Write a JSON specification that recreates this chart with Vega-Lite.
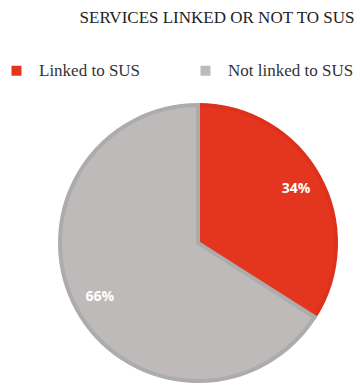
{
  "$schema": "https://vega.github.io/schema/vega-lite/v6.json",
  "width": 396,
  "height": 286,
  "autosize": "none",
  "padding": {"left": 0, "top": 100, "right": 0, "bottom": 0},
  "background": "white",
  "title": {
    "text": "SERVICES LINKED OR NOT TO SUS",
    "font": "Liberation Serif",
    "fontSize": 17,
    "fontWeight": "normal",
    "color": "#222222",
    "anchor": "middle",
    "dx": 19,
    "offset": 35
  },
  "data": {
    "values": [
      {"category": "Linked to SUS", "value": 34, "label": "34%"},
      {"category": "Not linked to SUS", "value": 66, "label": "66%"}
    ]
  },
  "encoding": {
    "theta": {"field": "value", "type": "quantitative", "stack": true},
    "order": {"field": "value", "type": "quantitative", "sort": "ascending"}
  },
  "layer": [
    {
      "mark": {"type": "arc", "outerRadius": 138, "strokeWidth": 4},
      "encoding": {
        "color": {
          "field": "category",
          "type": "nominal",
          "scale": {"domain": ["Linked to SUS", "Not linked to SUS"], "range": ["#e4361f", "#bdbab9"]},
          "legend": {
            "title": null,
            "orient": "none",
            "legendX": 8,
            "legendY": -38,
            "direction": "horizontal",
            "symbolType": "square",
            "symbolSize": 100,
            "symbolStrokeWidth": 0,
            "labelFont": "Liberation Serif",
            "labelFontSize": 17,
            "labelColor": "#333333",
            "labelOffset": 14,
            "columnPadding": 56
          }
        },
        "stroke": {
          "field": "category",
          "type": "nominal",
          "scale": {"domain": ["Linked to SUS", "Not linked to SUS"], "range": ["#de311c", "#adacac"]},
          "legend": null
        }
      }
    },
    {
      "mark": {"type": "text", "radius": 112, "font": "Open Sans", "fontSize": 14, "fontWeight": "bold", "color": "white"},
      "encoding": {"text": {"field": "label"}}
    }
  ]
}
